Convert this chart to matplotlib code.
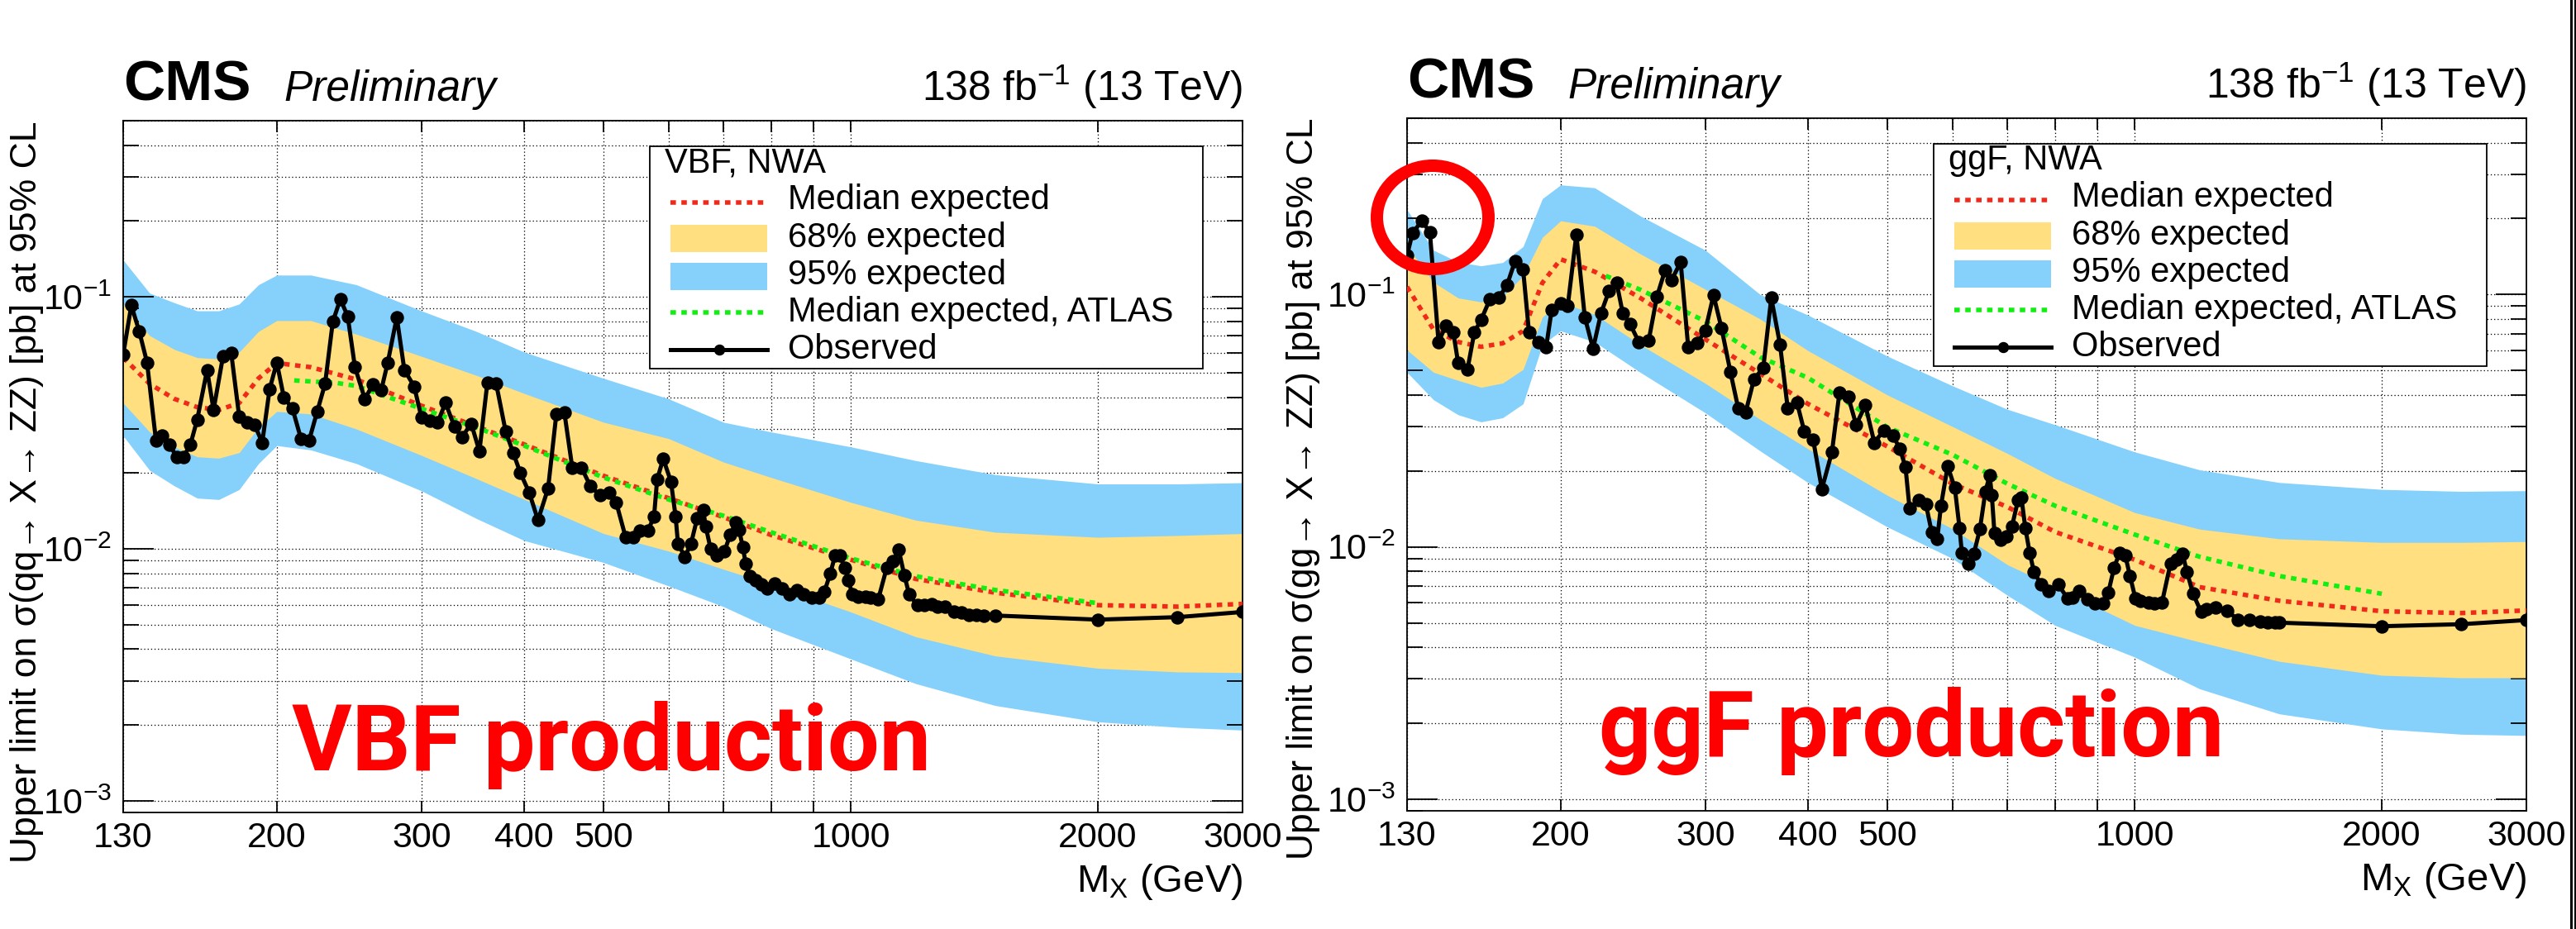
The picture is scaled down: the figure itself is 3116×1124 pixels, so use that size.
import matplotlib
matplotlib.use("Agg")
import matplotlib.pyplot as plt
from matplotlib.patches import Rectangle, Ellipse
from matplotlib.lines import Line2D
from matplotlib.ticker import FixedLocator, FixedFormatter, NullFormatter, LogLocator

plt.rcParams['font.family'] = ['Liberation Sans', 'DejaVu Sans']
plt.rcParams['mathtext.fontset'] = 'custom'
plt.rcParams['mathtext.rm'] = 'Liberation Sans'
plt.rcParams['mathtext.it'] = 'Liberation Sans:italic'
plt.rcParams['mathtext.bf'] = 'Liberation Sans:bold'

# ---------------- data ----------------

# mass grid for the expected bands
mass = [130, 140, 150, 160, 170, 180, 190, 200, 220, 250, 300, 350, 400,
        500, 600, 700, 800, 1000, 1200, 1500, 2000, 2500, 3000]

# VBF
vbf_exp = [0.0574, 0.0452, 0.0394, 0.0365, 0.0356, 0.0379, 0.0475, 0.0546, 0.0526, 0.0470, 0.0370, 0.0306,
           0.0260, 0.0195, 0.0159, 0.01336, 0.01135, 0.00906, 0.0076, 0.0067, 0.00598, 0.0059, 0.00605]
vbf_68_up = [0.0937, 0.0702, 0.0619, 0.0574, 0.0567, 0.0604, 0.0729, 0.0805, 0.0805, 0.0711, 0.0581, 0.0488,
             0.0414, 0.0318, 0.0274, 0.0221, 0.0192, 0.0153, 0.0130, 0.01164, 0.01112, 0.0113, 0.0115]
vbf_68_dn = [0.0379, 0.0291, 0.0254, 0.0232, 0.0229, 0.0241, 0.0303, 0.0351, 0.0343, 0.0299, 0.0235, 0.0190,
             0.01574, 0.0115, 0.0098, 0.0083, 0.00723, 0.00562, 0.00448, 0.00376, 0.00336, 0.00325, 0.00323]
vbf_95_up = [0.140, 0.1035, 0.0948, 0.088, 0.088, 0.0937, 0.1117, 0.122, 0.122, 0.1117, 0.088, 0.0729,
             0.0604, 0.0475, 0.0394, 0.0318, 0.0291, 0.0254, 0.0224, 0.0197, 0.0181, 0.0181, 0.0183]
vbf_95_dn = [0.0281, 0.0205, 0.0178, 0.0159, 0.0157, 0.0172, 0.0218, 0.0257, 0.0247, 0.0218, 0.0170, 0.0132,
             0.0108, 0.00883, 0.00713, 0.0059, 0.00483, 0.00366, 0.00292, 0.00239, 0.00206, 0.00196, 0.00191]

vbf_atlas_mass = [210, 237, 250, 300, 350, 400, 500, 600, 700, 800, 1000, 1200, 1500, 2000]
vbf_atlas = [0.0466, 0.0455, 0.0443, 0.0360, 0.0303, 0.0257, 0.0192, 0.0157, 0.01353, 0.01164,
             0.00917, 0.00779, 0.00687, 0.00609]

vbf_obs_mass = [130, 133, 136, 139, 142.5, 145, 148, 151, 154, 157, 160, 164.5, 167.5, 172, 176, 180,
                184, 188, 192, 196, 200, 204, 209, 214, 219, 224, 229, 234, 239, 244, 249, 256, 262,
                268, 273, 280, 286, 294, 300, 307, 314, 321, 329, 336, 345, 353, 361, 370, 380, 388,
                396, 406, 416, 428, 438, 448, 458, 470, 482, 495, 508, 518, 532, 543, 554, 566, 576,
                581, 591, 604, 612, 616, 628, 639, 650, 661, 666, 675, 687, 702, 713, 724, 731, 739,
                745, 754, 766, 778, 791, 807, 824, 842, 859, 877, 896, 915, 929, 944, 957, 969, 984,
                994, 1004, 1020, 1042, 1058, 1080, 1106, 1126, 1144, 1162, 1178, 1205, 1230, 1256,
                1276, 1303, 1337, 1365, 1394, 1423, 1453, 1500, 2000, 2500, 3000]
vbf_obs = [0.059, 0.0925, 0.0729, 0.0549, 0.0270, 0.0281, 0.0260, 0.0232, 0.0232, 0.0260, 0.0326, 0.0513,
           0.0356, 0.0581, 0.0599, 0.0334, 0.0318, 0.0310, 0.0264, 0.0430, 0.0549, 0.0399, 0.0360, 0.0274,
           0.0270, 0.0351, 0.0452, 0.0796, 0.098, 0.0837, 0.0526, 0.0394, 0.0450, 0.0425, 0.0549, 0.083,
           0.0513, 0.0441, 0.0333, 0.0322, 0.0318, 0.0380, 0.0306, 0.0277, 0.0314, 0.0244, 0.0458, 0.0452,
           0.0292, 0.0241, 0.0200, 0.0167, 0.0130, 0.0174, 0.0343, 0.0347, 0.0210, 0.0210, 0.0177, 0.0163,
           0.0167, 0.0153, 0.0111, 0.0111, 0.0118, 0.0118, 0.0134, 0.0188, 0.0228, 0.0185, 0.0134, 0.0105,
           0.0093, 0.0105, 0.0132, 0.0143, 0.01225, 0.0100, 0.0094, 0.0098, 0.01136, 0.0127, 0.01193,
           0.01014, 0.00871, 0.00778, 0.0075, 0.00722, 0.00695, 0.00731, 0.00695, 0.0066, 0.00687, 0.0066,
           0.0064, 0.0064, 0.00678, 0.00797, 0.0094, 0.0094, 0.0084, 0.0075, 0.0066, 0.00646, 0.00646,
           0.0064, 0.0063, 0.0084, 0.00895, 0.0099, 0.00788, 0.0066, 0.00598, 0.0060, 0.00604, 0.00591,
           0.00591, 0.00562, 0.00558, 0.00548, 0.00545, 0.00542, 0.00544, 0.00524, 0.00536, 0.00562]

# ggF
ggf_exp = [0.1073, 0.0727, 0.0649, 0.0621, 0.0641, 0.0718, 0.1113, 0.138, 0.1233, 0.097, 0.0665, 0.0486,
           0.0369, 0.0250, 0.0178, 0.0144, 0.01147, 0.0089, 0.00693, 0.00612, 0.00556, 0.00547, 0.0056]
ggf_68_up = [0.155, 0.112, 0.097, 0.0935, 0.0983, 0.1186, 0.1686, 0.196, 0.1866, 0.145, 0.105, 0.080,
             0.060, 0.040, 0.030, 0.02346, 0.0187, 0.01368, 0.01176, 0.01077, 0.01042, 0.01042, 0.0105]
ggf_68_dn = [0.0603, 0.0492, 0.0457, 0.0429, 0.0446, 0.0505, 0.0814, 0.0935, 0.0834, 0.0633, 0.0445, 0.032,
             0.0245, 0.0160, 0.0118, 0.0085, 0.00693, 0.00489, 0.0042, 0.00352, 0.0031, 0.00303, 0.00303]
ggf_95_up = [0.217, 0.150, 0.1345, 0.130, 0.134, 0.155, 0.24, 0.272, 0.265, 0.205, 0.150, 0.100,
             0.083, 0.057, 0.0435, 0.0351, 0.0305, 0.0238, 0.0202, 0.018, 0.0169, 0.0166, 0.0167]
ggf_95_dn = [0.0492, 0.0383, 0.0334, 0.0313, 0.0325, 0.0369, 0.0633, 0.0718, 0.0649, 0.0492, 0.0340, 0.0240,
             0.0180, 0.0120, 0.0090, 0.00643, 0.00489, 0.00366, 0.00274, 0.00218, 0.0019, 0.00181, 0.00179]

ggf_atlas_mass = [227, 250, 300, 350, 400, 500, 600, 700, 800, 1000, 1200, 1500, 2000]
ggf_atlas = [0.1186, 0.1046, 0.0784, 0.0565, 0.0468, 0.0298, 0.0232, 0.0178, 0.01456, 0.0112,
             0.00914, 0.00767, 0.00652]

ggf_obs_mass = [130, 132, 135.5, 138.6, 142, 145, 148, 150, 154, 157, 160, 164, 168, 172, 176, 180, 183,
                188, 192, 195, 200, 204, 209, 214, 219, 224, 229, 234, 238, 243, 249, 256, 262, 268,
                273, 280, 286, 293, 300, 307, 314, 322, 329, 336, 344, 353, 361, 370, 378, 388, 396,
                406, 416, 428, 437, 448, 458, 470, 482, 495, 508, 518, 526, 532, 546, 557, 566, 575,
                581, 592, 604, 612, 616, 627, 637, 648, 658, 666, 670, 675, 687, 698, 709, 721, 728,
                736, 745, 754, 769, 786, 807, 828, 841, 856, 876, 895, 915, 929, 944, 959, 974, 987,
                1002, 1015, 1040, 1058, 1080, 1106, 1124, 1144, 1158, 1178, 1205, 1224, 1256, 1296,
                1337, 1379, 1423, 1453, 1484, 1500, 2000, 2500, 3000]
ggf_obs = [0.143, 0.175, 0.196, 0.177, 0.0649, 0.0755, 0.0709, 0.0538, 0.0505, 0.0709, 0.0794, 0.0958,
           0.097, 0.1086, 0.136, 0.126, 0.0709, 0.0649, 0.0617, 0.0867, 0.0923, 0.090, 0.173, 0.0814,
           0.061, 0.0845, 0.1033, 0.1114, 0.0845, 0.0764, 0.0649, 0.0658, 0.0983, 0.1247, 0.1143, 0.1345,
           0.0617, 0.0641, 0.0718, 0.0995, 0.0736, 0.0492, 0.0355, 0.0342, 0.0463, 0.0512, 0.097, 0.0633,
           0.0355, 0.0373, 0.0287, 0.0266, 0.01695, 0.0238, 0.0408, 0.0393, 0.0305, 0.0364, 0.0259, 0.0290,
           0.0276, 0.0244, 0.0207, 0.0142, 0.0153, 0.01475, 0.01147, 0.01077, 0.01456, 0.0209, 0.01714,
           0.0119, 0.0095, 0.0086, 0.00938, 0.01175, 0.01652, 0.0192, 0.0161, 0.01133, 0.01064, 0.01104,
           0.01205, 0.0153, 0.0157, 0.01189, 0.0095, 0.00797, 0.00711, 0.00668, 0.00711, 0.00627, 0.0063,
           0.00668, 0.0062, 0.00597, 0.00597, 0.0066, 0.00828, 0.0095, 0.00927, 0.00768, 0.00627, 0.00612,
           0.00604, 0.00597, 0.00604, 0.0086, 0.0089, 0.00938, 0.00797, 0.00652, 0.00553, 0.00567, 0.00574,
           0.0056, 0.00513, 0.00513, 0.00507, 0.00501, 0.00501, 0.00501, 0.00485, 0.00494, 0.00513]

x_major = [130, 200, 300, 400, 500, 1000, 2000, 3000]
x_minor = [600, 700, 800, 900]
x_labels = ['130', '200', '300', '400', '500', '1000', '2000', '3000']

legend_labels = ['Median expected', '68% expected', '95% expected', 'Median expected, ATLAS', 'Observed']

# ---------------- styling ----------------
W, H = 3116, 1124
YELLOW = '#ffdf7f'
BLUE = '#85d1fb'
RED = '#f02a1a'
GREEN = '#11ee11'
PX = 0.72  # points per pixel at dpi 100
DOTS = (0, (1.2, 1.2))
OBS_LW = 5 * PX
OBS_MS = 15 * PX
EXP_LW = 5.5 * PX

fig = plt.figure(figsize=(W / 100, H / 100), dpi=100)


def make_axes(left, top, right, bottom):
    rect = [left / W, 1 - bottom / H, (right - left) / W, (bottom - top) / H]
    axg = fig.add_axes(rect, zorder=0)
    ax = fig.add_axes(rect, zorder=1)
    for a in (axg, ax):
        a.set_xscale('log')
        a.set_yscale('log')
        a.set_xlim(130, 3000)
        a.set_ylim(9e-4, 0.5)
        a.xaxis.set_major_locator(FixedLocator(x_major))
        a.xaxis.set_minor_locator(FixedLocator(x_minor))
        a.xaxis.set_major_formatter(FixedFormatter(x_labels))
        a.xaxis.set_minor_formatter(NullFormatter())
        a.yaxis.set_major_locator(LogLocator(base=10))
        a.yaxis.set_minor_locator(LogLocator(base=10, subs=range(2, 10)))
        a.yaxis.set_minor_formatter(NullFormatter())
    # grid only on the back axes, so the bands cover it
    axg.grid(True, which='both', color='black', lw=1.3 * PX, linestyle=(0, (1, 2.2)))
    axg.tick_params(which='both', length=0, labelbottom=False, labelleft=False)
    for s in axg.spines.values():
        s.set_visible(False)
    # front axes: ticks inside, transparent
    ax.patch.set_alpha(0)
    ax.tick_params(which='both', direction='in', top=True, right=True, width=1.8 * PX, labelsize=31)
    ax.tick_params(axis='x', which='both', length=14 * PX, pad=8)
    ax.tick_params(axis='y', which='major', length=37 * PX, pad=10)
    ax.tick_params(axis='y', which='minor', length=19 * PX)
    for s in ax.spines.values():
        s.set_linewidth(1.8 * PX)
    return ax


def draw_legend(ax, header):
    axw, axh = 1354.0, 837.0

    def fx(p):
        return p / axw

    def fy(p):
        return 1 - p / axh

    kw = dict(transform=ax.transAxes, zorder=20, clip_on=False)
    ax.add_patch(Rectangle((fx(637), fy(300)), fx(1306) - fx(637), fy(31) - fy(300),
                           facecolor='white', edgecolor='black', lw=1.8 * PX, **kw))
    ax.text(fx(655), fy(62), header, fontsize=30, va='baseline', **kw)
    for lab, yb in zip(legend_labels, [107, 153, 198, 243, 288]):
        ax.text(fx(804), fy(yb), lab, fontsize=30, va='baseline', **kw)
    ax.add_line(Line2D([fx(662), fx(779)], [fy(99), fy(99)], color=RED, lw=EXP_LW,
                       linestyle=DOTS, **kw))
    ax.add_patch(Rectangle((fx(662), fy(159)), fx(117), fy(126) - fy(159), facecolor=YELLOW, lw=0, **kw))
    ax.add_patch(Rectangle((fx(662), fy(205)), fx(117), fy(172) - fy(205), facecolor=BLUE, lw=0, **kw))
    ax.add_line(Line2D([fx(662), fx(779)], [fy(232), fy(232)], color=GREEN, lw=EXP_LW,
                       linestyle=DOTS, **kw))
    ax.add_line(Line2D([fx(662), fx(779)], [fy(277), fy(277)], color='black', lw=OBS_LW, **kw))
    ax.add_line(Line2D([fx(720.5)], [fy(277)], color='black', marker='o', markersize=OBS_MS * 0.8, **kw))


def draw_panel(ax, exp, up68, dn68, up95, dn95, atlas_m, atlas, obs_m, obs,
               header, big_text, big_xy, ylabel, ylab_x):
    ax.fill_between(mass, dn95, up95, color=BLUE, lw=0, zorder=1)
    ax.fill_between(mass, dn68, up68, color=YELLOW, lw=0, zorder=2)
    ax.plot(mass, exp, color=RED, lw=EXP_LW, linestyle=DOTS, zorder=3)
    ax.plot(atlas_m, atlas, color=GREEN, lw=EXP_LW, linestyle=DOTS, zorder=4)
    ax.plot(obs_m, obs, color='black', lw=OBS_LW, marker='o', markersize=OBS_MS, zorder=5)

    ax.set_ylabel(ylabel, fontsize=32, loc='top')
    ax.yaxis.set_label_coords(ylab_x, 1.0)
    ax.set_xlabel(r'M$_{\mathrm{X}}$ (GeV)', fontsize=34, loc='right')
    ax.xaxis.set_label_coords(1.0, -0.072)

    ytop = 1 + 24 / 837
    ax.text(0, ytop, 'CMS', transform=ax.transAxes, fontsize=50, weight='bold', va='baseline')
    ax.text(0.1433, ytop, 'Preliminary', transform=ax.transAxes, fontsize=37, style='italic',
            va='baseline')
    ax.text(1, ytop, '138 fb$^{-1}$ (13 TeV)', transform=ax.transAxes, fontsize=36, ha='right',
            va='baseline')
    ax.text(big_xy[0], big_xy[1], big_text, transform=ax.transAxes, fontsize=80,
            family=['Roboto', 'DejaVu Sans'], weight='bold', color='#ff0000', va='baseline', zorder=15)
    draw_legend(ax, header)


# left panel: VBF
ax1 = make_axes(149, 146, 1503, 983)
draw_panel(ax1, vbf_exp, vbf_68_up, vbf_68_dn, vbf_95_up, vbf_95_dn,
           vbf_atlas_mass, vbf_atlas, vbf_obs_mass, vbf_obs,
           'VBF, NWA', 'VBF production', (0.1507, 0.0609),
           'Upper limit on σ(qq→ X→ ZZ) [pb] at 95% CL', -0.071)

# right panel: ggF
ax2 = make_axes(1702, 143, 3056, 981)
draw_panel(ax2, ggf_exp, ggf_68_up, ggf_68_dn, ggf_95_up, ggf_95_dn,
           ggf_atlas_mass, ggf_atlas, ggf_obs_mass, ggf_obs,
           'ggF, NWA', 'ggF production', (0.1713, 0.0788),
           'Upper limit on σ(gg→ X→ ZZ) [pb] at 95% CL', -0.0775)

# red ring highlighting the low-mass excess
ax2.add_patch(Ellipse((0.0229, 0.8568), 0.0997, 0.1492, transform=ax2.transAxes, fill=False,
                      edgecolor='#ff0000', lw=15 * PX, zorder=25, clip_on=False))

# thin frame at the right border of the picture
fig.add_artist(Line2D([3109.5 / W] * 2, [0, 1], transform=fig.transFigure, color='black', lw=3 * PX))
fig.add_artist(Line2D([3114.5 / W] * 2, [0, 1], transform=fig.transFigure, color='black', lw=3 * PX))

fig.savefig('out.png', dpi=100)
